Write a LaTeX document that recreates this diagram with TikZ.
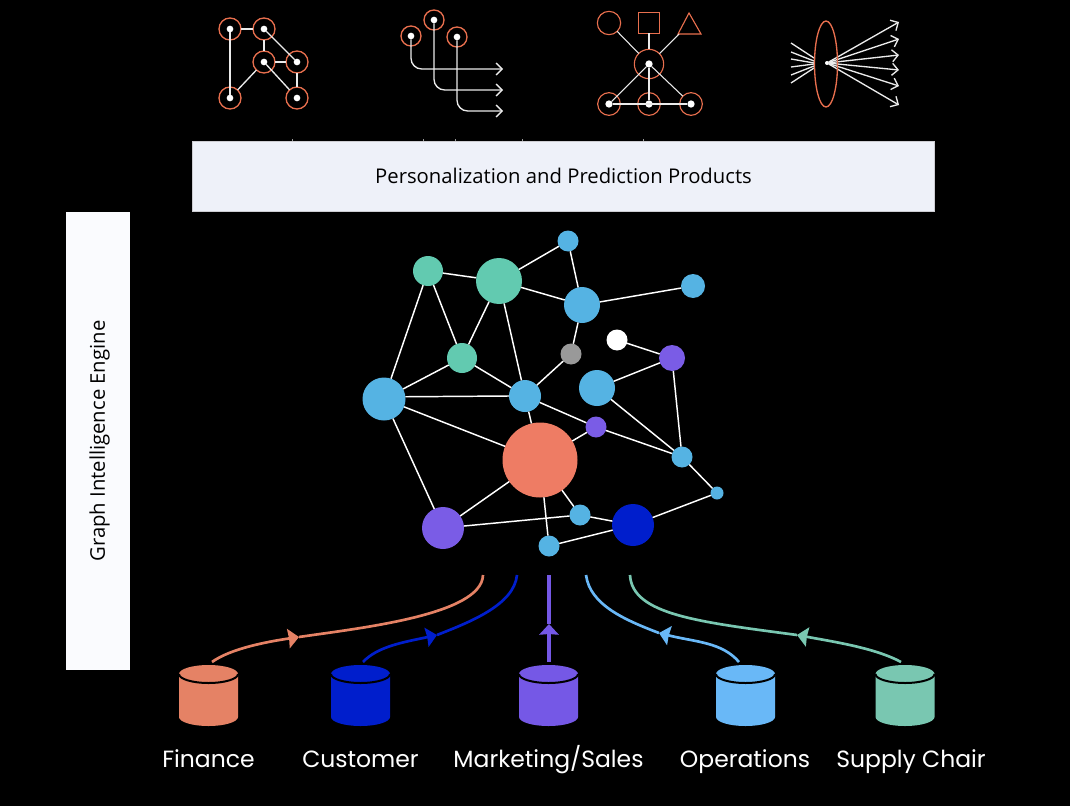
\documentclass[tikz,border=0pt]{standalone}
\usepackage{fontspec}
\usetikzlibrary{arrows.meta,calc}
\setmainfont{Open Sans}
\newfontfamily\labelfont{Poppins}
\definecolor{coral}{HTML}{EE7C64}
\definecolor{iconline}{HTML}{E86F4E}
\definecolor{skyb}{HTML}{55B3E3}
\definecolor{mint}{HTML}{62CAB0}
\definecolor{violet}{HTML}{7A5CE6}
\definecolor{navy}{HTML}{001ECC}
\definecolor{greyn}{HTML}{999999}
\definecolor{finc}{HTML}{E58265}
\definecolor{mktc}{HTML}{7558E6}
\definecolor{opsc}{HTML}{69B8F7}
\definecolor{supc}{HTML}{79C7B1}
\definecolor{barfill}{HTML}{EEF1F9}
\definecolor{sidefill}{HTML}{FAFBFE}
\tikzset{
  gnode/.style={circle,inner sep=0pt,outer sep=0pt,fill=#1},
  glink/.style={draw=white,line width=1.1pt},
  ring/.style={circle,draw=iconline,line width=1pt,inner sep=0pt,outer sep=0pt,fill=none},
  pin/.style={circle,fill=white,inner sep=0pt,outer sep=0pt,minimum size=5pt},
  wire/.style={draw=white!92!black,line width=1pt},
  openarrow/.style={wire,-{Straight Barb[length=4.5pt,width=9pt,line width=1pt]}},
  feed/.style={line width=2pt,draw=#1},
  feedhead/.style={line width=2pt,draw=#1,-{Stealth[length=8pt,width=14.5pt,inset=0.5pt,fill=#1]}},
  dblabel/.style={text=white,font=\labelfont\fontsize{17.6}{20}\selectfont,anchor=base},
}
% Database drum with a dark rim under its lid
\newcommand{\drum}[3]{%
  \fill[#3] (#1-29.5,674) -- (#1-29.5,717) arc[start angle=180,end angle=0,x radius=29.5,y radius=9]
     -- (#1+29.5,674) arc[start angle=0,end angle=-180,x radius=29.5,y radius=9] -- cycle;
  \draw[black,line width=1.5pt] (#1-29.5,674) arc[start angle=180,end angle=0,x radius=29.5,y radius=9];
  \node[inner sep=0pt,minimum size=0pt] (#2) at (#1,665) {};
}
\begin{document}
\begin{tikzpicture}[x=0.75pt,y=-0.75pt]
\useasboundingbox (0,0) rectangle (1070,806);
\fill[black] (0,0) rectangle (1070,806);

% First icon: small network
\foreach \n/\x/\y in {a/230/29,b/264/29,c/264/62,d/297/62,e/230/98,f/297/98}{
  \node[ring,minimum size=16.5pt] (r\n) at (\x,\y) {};
  \node[pin] (p\n) at (\x,\y) {};
}
\draw[wire] (ra) -- (rb);
\draw[wire] (pa) -- (pe);
\draw[wire] (rb) -- (rc);
\draw[wire] (pb) -- (pd);
\draw[wire] (rc) -- (rd);
\draw[wire] (rc) -- (re);
\draw[wire] (pc) -- (rf);
\draw[wire] (rd) -- (rf);

% Second icon: three routed paths
\foreach \n/\x/\y in {g/411/36,h/434/20,i/457/37}{
  \node[ring,minimum size=15pt] (r\n) at (\x,\y) {};
  \node[pin] (p\n) at (\x,\y) {};
}
\coordinate (endg) at (503,69);
\coordinate (endh) at (503,90);
\coordinate (endi) at (503,111);
\draw[openarrow,rounded corners=8pt] (pg) |- (endg);
\draw[openarrow,rounded corners=8pt] (ph) |- (endh);
\draw[openarrow,rounded corners=8pt] (pi) |- (endi);

% Third icon: shapes classified through a hub
\node[ring,line width=0.85pt,minimum size=17.5pt] (shapea) at (609,23) {};
\node[draw=iconline,line width=0.85pt,minimum size=15.5pt,inner sep=0pt,outer sep=0pt] (shapeb) at (649,23) {};
\draw[iconline,line width=0.85pt] (689,13) -- (701,34) -- (678,34) -- cycle;
\coordinate (shapec) at (679,34);
\node[ring,line width=0.85pt,minimum size=22pt] (hub) at (649,64) {};
\node[pin,minimum size=5.5pt] (phub) at (649,64) {};
\foreach \n/\x in {j/609,k/649,l/691}{
  \node[ring,line width=0.85pt,minimum size=17pt] (r\n) at (\x,104) {};
  \node[pin,minimum size=5.5pt] (p\n) at (\x,104) {};
}
\draw[wire,line width=0.8pt] (shapea) -- (hub);
\draw[wire,line width=0.8pt] (shapeb) -- (hub);
\draw[wire,line width=0.8pt] (shapec) -- (hub);
\draw[wire,line width=0.8pt] (phub) -- (pj);
\draw[wire,line width=0.8pt] (phub) -- (pk);
\draw[wire,line width=0.8pt] (phub) -- (rl);
\draw[wire,line width=0.8pt] (pj) -- (pl);

% Fourth icon: rays through a lens
\node[pin,minimum size=3pt] (focus) at (827,63) {};
\foreach \i/\y/\z in {1/43/58,2/52/61,3/59/63,4/67/64,5/75/66,6/83/68}{
  \coordinate (in\i) at (791,\y);
  \coordinate (lens\i) at (814,\z);
  \draw[wire] (in\i) -- (lens\i);
}
\foreach \i/\y in {1/22,2/39,3/55,4/70,5/86,6/105}{
  \coordinate (out\i) at (899,\y);
  \draw[openarrow] (focus) -- (out\i);
}
\draw[iconline,line width=1pt] (826,64) ellipse[x radius=11.5,y radius=43];

% Title boxes
\foreach \x in {292,423,455,522,643}{\draw[greyn,line width=0.4pt] (\x,139.5) -- (\x,141);}
\node[fill=barfill,draw={rgb,255:red,205;green,205;blue,210},line width=0.3pt,
      minimum width=556.5pt,minimum height=52.5pt,inner sep=0pt,text=black,
      font=\fontsize{15.2}{18}\selectfont] (products) at (563.5,176) {Personalization and Prediction Products};
\node[fill=sidefill,minimum width=48pt,minimum height=343.5pt,inner sep=0pt] (engine) at (98,441) {};
\node[rotate=90,text=black,font=\fontsize{15.2}{18}\selectfont] (enginetext) at (99.5,441) {Graph Intelligence Engine};

% Central graph
\foreach \n/\x/\y/\r/\c in {
  m1/428/271/15/mint, m2/499/281/23/mint, m3/462/358/15/mint,
  s1/568/241/10.5/skyb, s2/582/305/18/skyb, s3/693/286/12/skyb,
  s4/597/388/18/skyb, s5/384/399/21.5/skyb, s6/525/396/16/skyb,
  s7/682/457/10.5/skyb, s8/717/493/6.5/skyb, s9/580/515/10.5/skyb, s10/549/546/10.5/skyb,
  grey/571/354/10.5/greyn, wht/617/340/10.5/white,
  v1/672/358/13/violet, v2/596/427/10.5/violet, v3/443/528/21/violet,
  big/540/460/37.5/coral, nv/633/525/21/navy}{
  \pgfmathsetmacro{\dia}{2*\r*0.75}
  \node[gnode=\c,minimum size=\dia pt] (\n) at (\x,\y) {};
}
\foreach \a/\b in {m1/m2,m2/s1,m2/s2,s1/s2,s2/s3,m1/s5,m1/m3,m2/m3,m2/s6,s2/grey,grey/s6,
  wht/v1,v1/s4,v1/s7,s4/s7,m3/s5,m3/s6,s5/big,s5/v3,s6/big,s6/v2,v2/big,v2/s7,s7/s8,
  s8/nv,big/v3,big/s9,big/s10,v3/s9,s9/nv,s10/nv}{
  \draw[glink] (\a) -- (\b);
}
\draw[glink] (s5.6) -- (s6.west);

% Source databases
\drum{208.5}{dbf}{finc}
\drum{360.5}{dbc}{navy}
\drum{548.5}{dbm}{mktc}
\drum{745.5}{dbo}{opsc}
\drum{905}{dbs}{supc}
\node[dblabel] (lf) at (208.5,767) {Finance};
\node[dblabel] (lc) at (360.5,767) {Customer};
\node[dblabel] (lm) at (548.5,767) {Marketing/Sales};
\node[dblabel] (lo) at (745,767) {Operations};
\node[dblabel] (ls) at (911,767) {Supply Chair};

% Feeds from the databases up into the graph
\coordinate (ff) at (212,662); \coordinate (hf) at (299,637); \coordinate (ef) at (483,575);
\coordinate (fc) at (363,662); \coordinate (hc) at (437,635); \coordinate (ec) at (517,575);
\coordinate (fm) at (549,662); \coordinate (hm) at (549,624); \coordinate (em) at (549,575);
\coordinate (fo) at (739,662); \coordinate (ho) at (659,633); \coordinate (eo) at (586,575);
\coordinate (fs) at (901,662); \coordinate (hs) at (797,635); \coordinate (es) at (630,575);

\draw[feed=finc] (hf) .. controls (360,628) and (482,615) .. (ef);
\draw[feed=navy] (hc) .. controls (470,622) and (514,605) .. (ec);
\draw[feed=mktc,line width=2.5pt] (hm) -- (em);
\draw[feed=opsc] (ho) .. controls (625,620) and (590,605) .. (eo);
\draw[feed=supc] (hs) .. controls (700,622) and (632,615) .. (es);
\draw[feedhead=finc] (ff) .. controls (230,649) and (265,642) .. (hf);
\draw[feedhead=navy] (fc) .. controls (378,646) and (405,642) .. (hc);
\draw[feedhead=mktc,line width=2.5pt] (fm) -- (hm);
\draw[feedhead=opsc] (fo) .. controls (722,642) and (695,642) .. (ho);
\draw[feedhead=supc] (fs) .. controls (875,648) and (835,642) .. (hs);
\end{tikzpicture}
\end{document}
